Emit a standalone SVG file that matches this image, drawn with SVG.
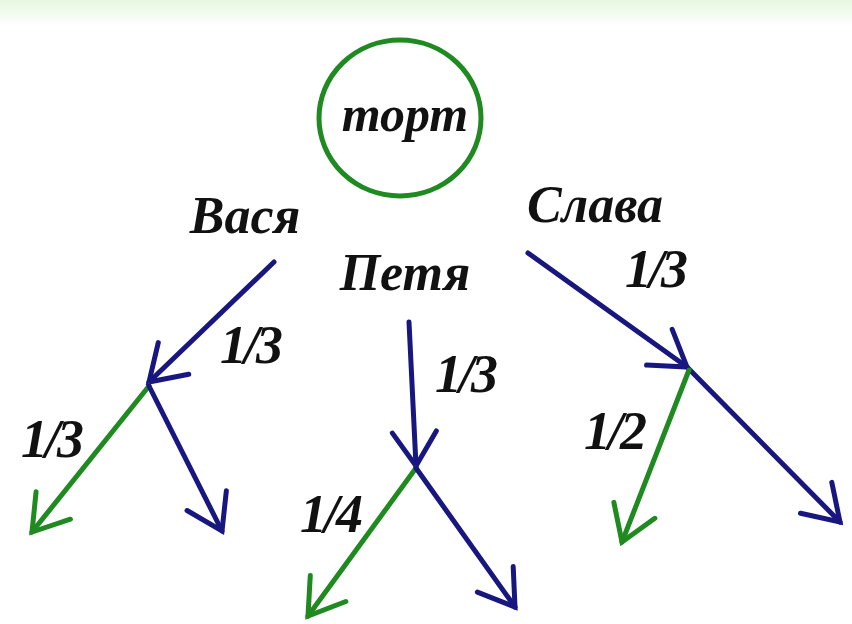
<svg xmlns="http://www.w3.org/2000/svg" width="852" height="624" viewBox="0 0 852 624">
<defs>
<linearGradient id="top" x1="0" y1="0" x2="0" y2="1">
<stop offset="0" stop-color="#e6f7e0"/><stop offset="1" stop-color="#ffffff"/>
</linearGradient>
<marker id="ab" viewBox="-12 -10 14 20" refX="0" refY="0" markerWidth="14" markerHeight="20" markerUnits="userSpaceOnUse" orient="auto" overflow="visible">
<path d="M-34,-22 L0,0 L-34,22" fill="none" stroke="#17177f" stroke-width="5" stroke-linecap="round" stroke-linejoin="miter"/>
</marker>
<marker id="ag" viewBox="-12 -10 14 20" refX="0" refY="0" markerWidth="14" markerHeight="20" markerUnits="userSpaceOnUse" orient="auto" overflow="visible">
<path d="M-34,-22 L0,0 L-34,22" fill="none" stroke="#1f8a1f" stroke-width="5" stroke-linecap="round" stroke-linejoin="miter"/>
</marker>
</defs>
<style>
.t{font-family:"Liberation Serif","Times New Roman",serif;font-weight:bold;font-style:italic;fill:#111}
.n{font-size:52px}
.f{font-size:54px;letter-spacing:-3px}
.b{stroke:#17177f;stroke-width:5;fill:none;stroke-linecap:round;marker-end:url(#ab)}
.g{stroke:#1f8a1f;stroke-width:5;fill:none;stroke-linecap:round;marker-end:url(#ag)}
</style>
<rect width="852" height="624" fill="#ffffff"/>
<rect width="852" height="26" fill="url(#top)"/>
<g id="tort">
<ellipse cx="400" cy="118" rx="81" ry="78" fill="none" stroke="#1f8a1f" stroke-width="5"/>
<text class="t" x="405" y="131" font-size="50" text-anchor="middle">торт</text>
</g>
<g id="vasya"><text class="t n" x="245" y="233" text-anchor="middle">Вася</text></g>
<g id="petya"><text class="t n" x="405" y="290" text-anchor="middle">Петя</text></g>
<g id="slava"><text class="t n" x="595" y="222" text-anchor="middle">Слава</text></g>
<g id="connectors">
<line class="b" x1="274" y1="262" x2="149" y2="382"/>
<line class="g" x1="149" y1="386" x2="32" y2="532"/>
<line class="b" x1="149" y1="386" x2="222" y2="531"/>
<line class="b" x1="409" y1="322" x2="416" y2="466"/>
<line class="g" x1="416" y1="468" x2="308" y2="616"/>
<line class="b" x1="416" y1="468" x2="515" y2="607"/>
<line class="b" x1="528" y1="253" x2="687" y2="367"/>
<line class="b" x1="687" y1="367" x2="840" y2="522"/>
<line class="g" x1="689" y1="370" x2="622" y2="542"/>
</g>
<g id="labels">
<text class="t f" x="250" y="363" text-anchor="middle">1/3</text>
<text class="t f" x="465" y="392" text-anchor="middle">1/3</text>
<text class="t f" x="655" y="287" text-anchor="middle">1/3</text>
<text class="t f" x="51" y="457" text-anchor="middle">1/3</text>
<text class="t f" x="330" y="532" text-anchor="middle">1/4</text>
<text class="t f" x="614" y="449" text-anchor="middle">1/2</text>
</g>
</svg>
